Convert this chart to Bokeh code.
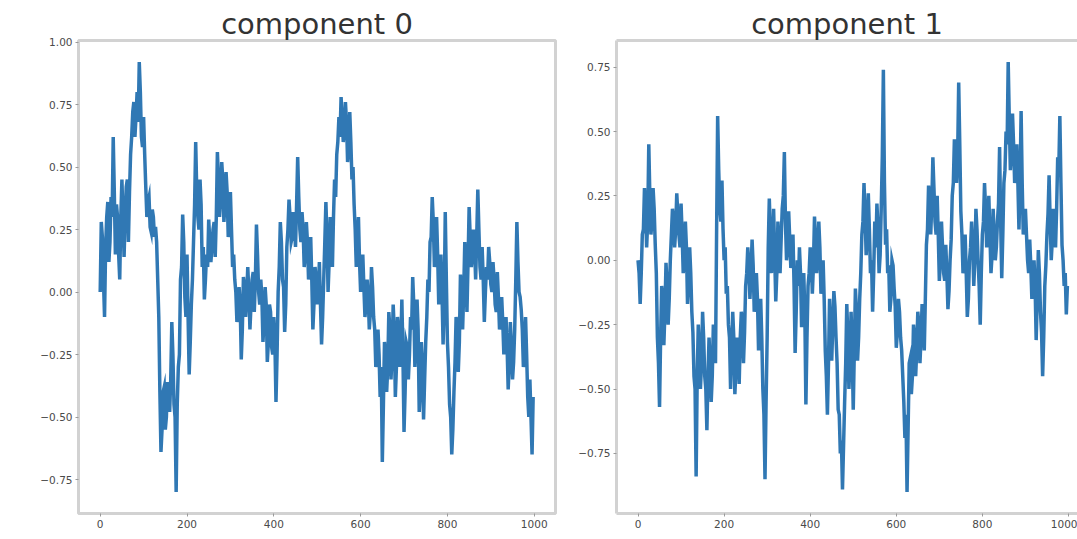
from bokeh.plotting import figure
from bokeh.layouts import row
from bokeh.models import FixedTicker, CustomJSTickFormatter, LinearAxis, Range1d, ColumnDataSource
from bokeh.embed import file_html
from bokeh.resources import INLINE

titles = ["component 0", "component 1"]
x_ticks = [0, 200, 400, 600, 800, 1000]
y_ticks0 = [-0.75, -0.5, -0.25, 0.0, 0.25, 0.5, 0.75, 1.0]
y_ticks1 = [-0.75, -0.5, -0.25, 0.0, 0.25, 0.5, 0.75]

# samples read at steps 0, 5, 10, ... 995
steps = list(range(0, 1000, 5))
# samples read at steps 2.5, 7.5, ... 997.5 (between the ones above)
half_steps = [s + 2.5 for s in steps]

comp0 = [
    0.00, 0.22, -0.10, 0.30, 0.12, 0.38, 0.62, 0.15, 0.30, 0.05,
    0.45, 0.14, 0.42, 0.20, 0.55, 0.72, 0.62, 0.80, 0.92, 0.62,
    0.70, 0.42, 0.36, 0.26, 0.33, 0.22, 0.20, -0.10, -0.64, -0.40,
    -0.55, -0.36, -0.48, -0.12, -0.45, -0.80, -0.30, 0.05, 0.31, -0.02,
    0.15, -0.33, -0.05, 0.20, 0.60, 0.30, 0.45, 0.10, -0.03, 0.15,
    0.29, 0.12, 0.25, 0.14, 0.56, 0.30, 0.52, 0.28, 0.48, 0.22,
    0.40, 0.10, 0.05, -0.12, 0.02, -0.27, 0.06, -0.10, 0.10, -0.15,
    0.05, -0.08, 0.27, 0.00, 0.05, -0.20, 0.02, -0.28, -0.05, -0.22,
    -0.10, -0.44, 0.00, 0.28, 0.05, -0.16, 0.18, 0.37, 0.20, 0.32,
    0.18, 0.54, 0.25, 0.32, 0.10, 0.28, 0.05, 0.22, -0.15, 0.10,
    -0.05, 0.12, -0.21, 0.05, 0.36, 0.00, 0.30, 0.10, 0.45, 0.55,
    0.70, 0.78, 0.60, 0.76, 0.52, 0.72, 0.45, 0.35, 0.10, 0.30,
    0.00, 0.15, -0.10, 0.05, -0.15, 0.10, -0.10, -0.30, -0.15, -0.42,
    -0.68, -0.20, -0.40, -0.08, -0.35, -0.05, -0.42, -0.10, -0.30, -0.03,
    -0.56, -0.20, -0.35, -0.10, 0.06, -0.30, -0.03, -0.48, -0.20, -0.51,
    -0.20, 0.05, 0.20, 0.38, 0.10, 0.30, -0.05, 0.15, -0.21, 0.32,
    -0.20, -0.45, -0.65, -0.40, -0.10, -0.32, 0.07, -0.15, 0.20, -0.08,
    0.34, 0.10, 0.25, 0.05, 0.41, 0.10, 0.18, -0.12, 0.10, 0.18,
    0.03, 0.12, -0.05, 0.08, -0.15, -0.02, -0.25, -0.10, -0.39, -0.12,
    -0.35, -0.15, 0.28, 0.00, -0.07, -0.30, -0.10, -0.42, -0.35, -0.65,
]

comp0_half = [
    0.28, 0.05, 0.18, 0.36, 0.20, 0.30, 0.40, 0.35, 0.15, 0.30,
    0.30, 0.30, 0.45, 0.40, 0.62, 0.76, 0.70, 0.68, 0.80, 0.58,
    0.55, 0.30, 0.38, 0.24, 0.30, 0.26, 0.05, -0.40, -0.55, -0.38,
    -0.50, -0.40, -0.35, -0.25, -0.50, -0.45, -0.25, 0.10, 0.20, -0.10,
    -0.10, -0.20, 0.05, 0.35, 0.40, 0.25, 0.35, 0.18, 0.05, 0.10,
    0.20, 0.18, 0.28, 0.30, 0.45, 0.38, 0.45, 0.35, 0.40, 0.25,
    0.25, 0.15, 0.00, -0.08, -0.05, -0.15, 0.02, -0.02, 0.00, -0.05,
    0.08, 0.05, 0.15, -0.05, -0.02, -0.12, -0.05, -0.20, -0.08, -0.25,
    -0.20, -0.25, 0.10, 0.20, 0.02, -0.05, 0.25, 0.30, 0.22, 0.26,
    0.35, 0.38, 0.20, 0.25, 0.15, 0.20, 0.08, 0.05, -0.05, 0.05,
    0.02, -0.05, -0.10, 0.20, 0.22, 0.12, 0.22, 0.30, 0.38, 0.60,
    0.62, 0.70, 0.65, 0.68, 0.58, 0.60, 0.50, 0.25, 0.18, 0.12,
    0.08, 0.02, -0.05, -0.02, -0.08, 0.02, -0.15, -0.25, -0.25, -0.30,
    -0.45, -0.25, -0.30, -0.15, -0.25, -0.15, -0.30, -0.15, -0.22, -0.25,
    -0.40, -0.22, -0.25, -0.15, -0.05, -0.20, -0.15, -0.38, -0.30, -0.35,
    -0.10, 0.00, 0.22, 0.28, 0.15, 0.15, 0.02, 0.00, -0.05, 0.05,
    -0.30, -0.50, -0.55, -0.28, -0.15, -0.20, -0.02, 0.00, 0.08, 0.12,
    0.22, 0.15, 0.18, 0.22, 0.25, 0.05, 0.05, 0.00, 0.05, 0.12,
    0.00, 0.05, -0.08, -0.02, -0.10, -0.12, -0.18, -0.22, -0.28, -0.22,
    -0.28, 0.05, 0.12, -0.02, -0.15, -0.25, -0.25, -0.50, -0.50, -0.42,
]

comp1 = [
    0.00, -0.17, 0.10, 0.28, 0.05, 0.45, 0.10, 0.28, 0.06, -0.30,
    -0.57, -0.10, -0.33, -0.01, -0.25, 0.00, 0.20, 0.05, 0.26, 0.10,
    0.22, -0.05, 0.15, -0.17, 0.05, -0.20, -0.45, -0.84, -0.25, -0.50,
    -0.20, -0.45, -0.66, -0.30, -0.55, -0.25, -0.40, 0.56, 0.20, 0.31,
    0.00, -0.13, -0.25, -0.50, -0.20, -0.52, -0.30, -0.48, -0.20, -0.40,
    -0.10, 0.05, -0.15, 0.08, -0.20, -0.05, -0.35, -0.15, -0.50, -0.85,
    -0.30, 0.24, -0.05, 0.20, -0.16, 0.15, -0.05, 0.20, 0.42, 0.00,
    0.19, -0.03, 0.10, -0.36, 0.00, 0.05, -0.26, -0.05, -0.56, -0.10,
    0.05, -0.13, 0.17, -0.05, 0.15, -0.13, 0.00, -0.35, -0.60, -0.15,
    -0.39, -0.12, -0.30, -0.58, -0.75, -0.89, -0.55, -0.17, -0.50, -0.20,
    -0.58, -0.11, -0.39, -0.15, 0.10, 0.30, 0.02, 0.26, -0.05, -0.20,
    0.15, 0.22, -0.05, 0.20, 0.74, 0.06, -0.05, -0.20, 0.00, -0.11,
    -0.34, -0.15, -0.30, -0.45, -0.69, -0.90, -0.40, -0.52, -0.25, -0.45,
    -0.20, -0.40, -0.17, -0.35, 0.06, 0.29, 0.10, 0.40, 0.15, 0.25,
    -0.08, 0.15, -0.05, 0.06, -0.19, 0.00, 0.25, 0.47, 0.30, 0.69,
    0.19, -0.05, 0.10, -0.22, 0.00, 0.15, -0.10, 0.20, 0.00, -0.25,
    0.10, 0.30, 0.05, 0.25, -0.05, 0.20, 0.00, 0.15, 0.44, -0.07,
    0.30, 0.50, 0.77, 0.35, 0.57, 0.30, 0.45, 0.12, 0.58, 0.10,
    0.20, 0.00, 0.08, -0.15, 0.00, -0.31, 0.04, -0.20, -0.45, -0.10,
    0.10, 0.33, 0.00, 0.20, 0.05, 0.40, 0.56, 0.06, -0.10, -0.21,
]

comp1_half = [
    -0.05, -0.05, 0.12, 0.20, 0.15, 0.25, 0.15, 0.20, -0.05, -0.40,
    -0.30, -0.15, -0.20, -0.10, -0.15, 0.10, 0.15, 0.12, 0.18, 0.05,
    0.10, 0.00, 0.05, -0.08, -0.05, -0.28, -0.50, -0.45, -0.35, -0.40,
    -0.30, -0.50, -0.45, -0.40, -0.45, -0.30, 0.10, 0.35, 0.15, 0.12,
    0.05, -0.10, -0.30, -0.35, -0.30, -0.42, -0.35, -0.30, -0.25, -0.28,
    -0.05, -0.02, -0.05, -0.02, -0.15, -0.15, -0.25, -0.30, -0.60, -0.55,
    0.05, 0.10, 0.05, 0.02, -0.05, 0.05, 0.08, 0.25, 0.15, 0.05,
    0.08, 0.00, -0.10, -0.20, -0.10, -0.05, -0.18, -0.20, -0.30, -0.05,
    0.00, -0.02, 0.08, 0.02, 0.05, -0.10, -0.15, -0.45, -0.40, -0.28,
    -0.25, -0.18, -0.40, -0.60, -0.70, -0.72, -0.40, -0.30, -0.38, -0.35,
    -0.35, -0.20, -0.30, -0.05, 0.15, 0.18, 0.10, 0.12, 0.00, -0.05,
    0.05, 0.12, 0.02, 0.40, 0.30, 0.12, -0.02, -0.15, -0.02, -0.18,
    -0.28, -0.20, -0.35, -0.55, -0.60, -0.65, -0.38, -0.45, -0.30, -0.35,
    -0.25, -0.30, -0.22, -0.15, 0.12, 0.20, 0.22, 0.28, 0.10, 0.10,
    0.00, 0.05, -0.08, -0.05, -0.12, 0.08, 0.30, 0.40, 0.40, 0.45,
    0.10, -0.02, -0.05, -0.15, 0.05, 0.05, 0.00, 0.12, -0.10, -0.05,
    0.15, 0.20, 0.12, 0.10, 0.02, 0.10, 0.05, 0.22, 0.15, 0.10,
    0.35, 0.45, 0.55, 0.42, 0.45, 0.35, 0.30, 0.30, 0.30, 0.15,
    0.10, -0.05, -0.02, -0.10, -0.10, -0.15, -0.05, -0.28, -0.30, -0.02,
    0.18, 0.15, 0.08, 0.12, 0.20, 0.35, 0.30, 0.00, -0.05, -0.10,
]

LINE = "#3078b4"
BORDER = "#d2d2d2"
TICKTXT = "#4a4a4a"
FONT = "DejaVu Sans"


def interleave(a, b):
    out = []
    for u, v in zip(a, b):
        out.extend([u, v])
    return out


def yformatter():
    return CustomJSTickFormatter(code="return tick.toFixed(2).replace('-', '\\u2212');")


def style_axis(ax):
    ax.major_label_text_font = FONT
    ax.major_label_text_font_size = "10.5px"
    ax.major_label_text_color = TICKTXT
    ax.major_tick_line_color = "#9a9a9a"
    ax.major_tick_in = 0
    ax.major_tick_out = 3
    ax.minor_tick_line_color = None
    ax.major_label_standoff = 3


def make(main, half, title, yticks, xend, width, mb_left, mb_right, mb_bottom, outline):
    xs = interleave(steps, half_steps)
    ys = interleave(main, half)
    lo, hi = min(ys), max(ys)
    span = hi - lo
    yr = Range1d(lo - 0.05 * span, hi + 0.05 * span)
    p = figure(width=width, height=539, output_backend="svg", toolbar_location=None,
               x_range=Range1d(-50, xend), y_range=yr,
               min_border_left=mb_left, min_border_right=mb_right,
               min_border_top=40, min_border_bottom=mb_bottom)
    p.title.text = title
    p.title.align = "center"
    p.title.text_font = FONT
    p.title.text_font_size = "29px"
    p.title.text_font_style = "normal"
    p.title.text_color = "#333333"
    p.title.standoff = 0
    p.xgrid.visible = False
    p.ygrid.visible = False
    p.background_fill_color = "white"
    p.border_fill_color = "white"
    src = ColumnDataSource(dict(x=xs, y=ys))
    p.line("x", "y", source=src, line_color=LINE, line_width=3.5, line_join="miter")
    p.xaxis.ticker = FixedTicker(ticks=x_ticks)
    p.yaxis.ticker = FixedTicker(ticks=yticks)
    p.yaxis.formatter = yformatter()
    for ax in p.xaxis + p.yaxis:
        style_axis(ax)
    if outline:
        p.outline_line_color = BORDER
        p.outline_line_width = 3
        for ax in p.xaxis + p.yaxis:
            ax.axis_line_color = None
    else:
        p.outline_line_color = None
        for ax in p.xaxis + p.yaxis:
            ax.axis_line_color = BORDER
            ax.axis_line_width = 3
        top = LinearAxis(ticker=FixedTicker(ticks=[]), major_label_text_font_size="0px",
                         axis_line_color=BORDER, axis_line_width=3,
                         major_tick_line_color=None, minor_tick_line_color=None)
        p.add_layout(top, "above")
    return p


p1 = make(comp0, comp0_half, titles[0], y_ticks0, 1049, 560, 78, 5, 26, True)
p2 = make(comp1, comp1_half, titles[1], y_ticks1, 1021, 517, 56, 0, 24, False)

layout = row(p1, p2)
open("out.html", "w").write(file_html(layout, INLINE))
